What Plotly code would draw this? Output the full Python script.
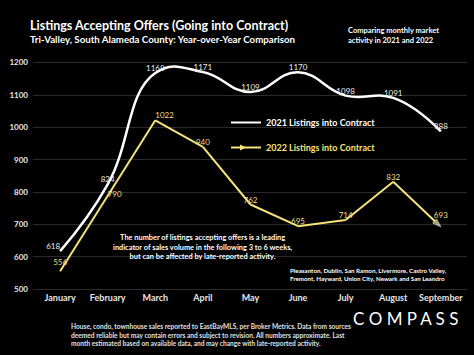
import plotly.graph_objects as go

months = ["January", "February", "March", "April", "May", "June", "July", "August", "September"]
listings_2021 = [618, 824, 1168, 1171, 1109, 1170, 1098, 1091, 988]
listings_2022 = [556, 790, 1022, 940, 762, 695, 714, 832, 693]
y_ticks = [500, 600, 700, 800, 900, 1000, 1100, 1200]

WHITE = "#FFFFFF"
YELLOW = "#F6E27A"
YELLOW_TXT = "#F2DE8E"
FONT = "Lato"

W, H = 474, 355
ML, MR, MT, MB = 33, 7, 61, 64
PW, PH = W - ML - MR, H - MT - MB


def px(x):
    return (x - ML) / PW


def py(y):
    return (H - MB - y) / PH


x_idx = list(range(len(months)))
n = len(months)

fig = go.Figure()

fig.add_trace(go.Scatter(
    x=x_idx, y=listings_2021, mode="lines+text",
    line=dict(color=WHITE, width=2.5, shape="spline", smoothing=1.3),
    text=[str(v) for v in listings_2021],
    textposition=["top left"] + ["top center"] * (n - 1),
    textfont=dict(color="#EEEEEE", size=8, family=FONT),
    showlegend=False, hoverinfo="skip",
))

fig.add_trace(go.Scatter(
    x=x_idx, y=listings_2022, mode="lines+markers+text",
    line=dict(color=YELLOW, width=2),
    marker=dict(color=YELLOW,
                symbol=["square"] + ["circle"] * (n - 2) + ["arrow"],
                size=[5] + [0] * (n - 2) + [9],
                angleref="previous"),
    text=[str(v) for v in listings_2022],
    textposition=["top center", "middle right", "top right"] + ["top center"] * (n - 3),
    textfont=dict(color=YELLOW_TXT, size=8, family=FONT),
    showlegend=False, hoverinfo="skip",
))

# legend entries
fig.add_trace(go.Scatter(
    x=[None], y=[None], mode="lines",
    line=dict(color=WHITE, width=2), legendgroup="a",
    name="<b>2021 Listings into Contract</b>",
))
fig.add_trace(go.Scatter(
    x=[None], y=[None], mode="lines+markers",
    line=dict(color=YELLOW, width=2), legendgroup="b",
    marker=dict(symbol="arrow-right", size=6, color=YELLOW),
    name=f"<b><span style='color:{YELLOW}'>2022 Listings into Contract</span></b>",
))

fig.update_layout(
    width=W, height=H,
    paper_bgcolor="black", plot_bgcolor="black",
    margin=dict(l=ML, r=MR, t=MT, b=MB),
    font=dict(family=FONT, color=WHITE),
    legend=dict(x=px(226), y=py(108), xanchor="left", yanchor="top",
                font=dict(size=9, color=WHITE, family=FONT),
                bgcolor="rgba(0,0,0,0)", itemwidth=30, tracegroupgap=6,
                traceorder="grouped"),
    xaxis=dict(
        range=[-0.57, 8.55], tickmode="array", tickvals=x_idx,
        ticktext=[f"<b>{m}</b>" for m in months],
        tickfont=dict(size=9, color="#E6E6E6", family=FONT),
        showgrid=False, zeroline=False, showline=False, ticks="",
        automargin=False,
    ),
    yaxis=dict(
        range=[495, 1205], tickmode="array", tickvals=y_ticks,
        ticktext=[f"<b>{v}</b>" for v in y_ticks],
        tickfont=dict(size=8, color="#E6E6E6", family=FONT),
        showgrid=True, gridcolor="#2B2B2B", gridwidth=1,
        zeroline=False, showline=False, ticks="", ticklabelstandoff=4,
        automargin=False,
    ),
)

annos = [
    (28, 25, "<b>Listings Accepting Offers (Going into Contract)</b>", 12.5, "left", WHITE),
    (28, 39, "<b>Tri-Valley, South Alameda County: Year-over-Year Comparison</b>", 9.7, "left", WHITE),
    (346, 36, "<b>Comparing monthly market<br>activity in 2021 and 2022</b>", 7.5, "left", WHITE),
    (202, 247, "<b>The number of listings accepting offers is a leading<br>indicator of sales volume in the following 3 to 6 weeks,<br>but can be affected by late-reported activity.</b>", 7.4, "center", WHITE),
    (288, 274, "<b>Pleasanton, Dublin, San Ramon, Livermore, Castro Valley,<br>Fremont, Hayward, Union City, Newark and San Leandro</b>", 6.2, "left", WHITE),
    (69, 335, "<b>House, condo, townhouse sales reported to EastBayMLS, per Broker Metrics. Data from sources<br>deemed reliable but may contain errors and subject to revision. All numbers approximate. Last<br>month estimated based on available data, and may change with late-reported activity.</b>", 6.6, "left", "#E0E0E0"),
    (405, 318, "C O M P A S S", 17, "center", WHITE),
]
for x, y, t, s, xa, c in annos:
    fig.add_annotation(xref="paper", yref="paper", x=px(x), y=py(y), text=t,
                       showarrow=False, xanchor=xa, yanchor="middle", align=xa,
                       font=dict(size=s, color=c, family=FONT))

fig.write_html("out.html", config={"displayModeBar": False},
               post_script="document.body.style.margin='0';document.body.style.overflow='hidden';")
